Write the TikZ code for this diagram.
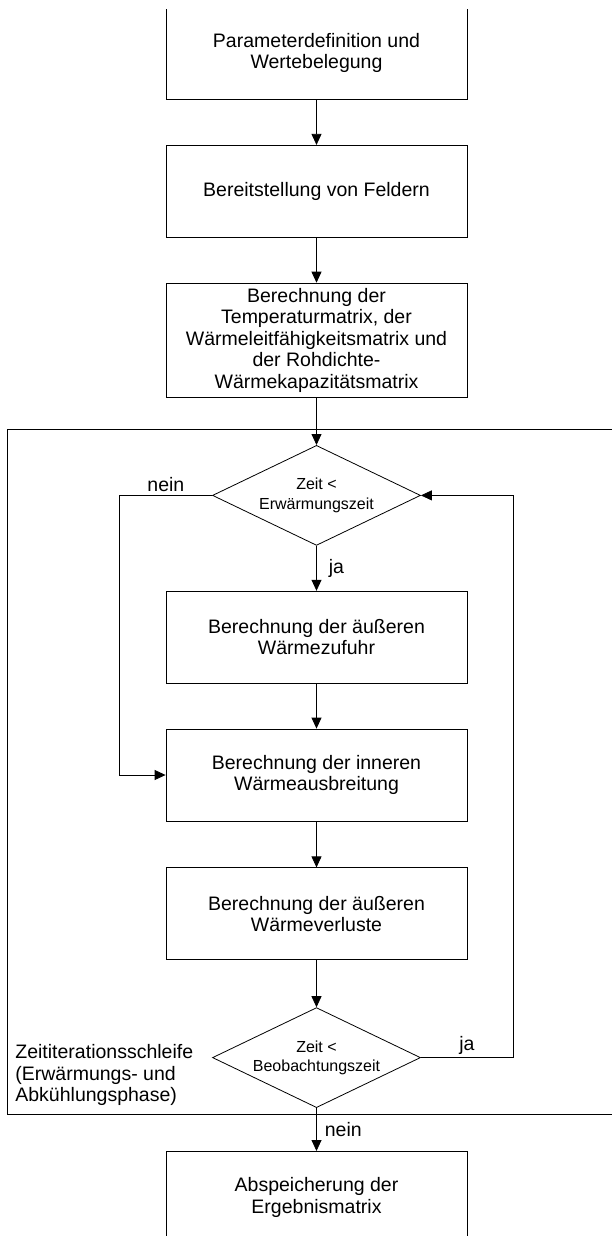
\documentclass[tikz,border=0pt]{standalone}
\usepackage{fontspec}
\setmainfont{Liberation Sans}
\usetikzlibrary{positioning, shapes.geometric, arrows.meta}

\begin{document}
\begin{tikzpicture}[>={Triangle[length=11pt,width=10pt]}, line width=0.8pt,
	blk/.style={rectangle, draw, minimum width=301pt, minimum height=92pt, inner sep=0pt, align=center, font=\fontsize{19.5}{21.5}\selectfont},
	dec/.style={diamond, draw, aspect=2.08, minimum width=208pt, minimum height=100pt, inner sep=0pt, align=center, font=\fontsize{16}{19.5}\selectfont},
	lbl/.style={inner sep=3pt, font=\fontsize{19.5}{21.5}\selectfont}]
		\useasboundingbox (0,0) rectangle (612pt,-1236pt);
		\clip (0,-10pt) rectangle (612pt,-1236pt);
		\node[blk] (P1) at (316.5pt,-53pt) {Parameterdefinition und\\Wertebelegung};
		\node[blk] (P2) [below=45.5pt of P1] {Bereitstellung von Feldern} edge[<-] (P1);
		\node[blk, minimum height=114pt] (P3) [below=45pt of P2] {Berechnung der\\Temperaturmatrix, der\\Wärmeleitfähigkeitsmatrix und\\der Rohdichte-\\Wärmekapazitätsmatrix} edge[<-] (P2);
		\node[dec] (D1) [below=47.5pt of P3] {Zeit <\\Erwärmungszeit} edge[<-] (P3);
		\node[blk] (P4) [below=45pt of D1] {Berechnung der äußeren\\Wärmezufuhr} edge[<-] node[lbl, right=9pt] {ja} (D1);
		\node[blk] (P5) [below=45pt of P4] {Berechnung der inneren\\Wärmeausbreitung} edge[<-] (P4);
		\node[blk] (P6) [below=46pt of P5] {Berechnung der äußeren\\Wärmeverluste} edge[<-] (P5);
		\node[dec] (D2) [below=47pt of P6] {Zeit <\\Beobachtungszeit} edge[<-] (P6);
		\node[blk] (P7) [below=43pt of D2] {Abspeicherung der\\Ergebnismatrix} edge[<-] node[lbl, right=5pt] {nein} (D2);
		\draw (7pt,-429pt) rectangle (640pt,-1114pt);
		\node[lbl, anchor=west, align=left] (L) at (12pt,-1075pt) {Zeititerationsschleife\\(Erwärmungs- und\\Abkühlungsphase)};
		\draw[->] (D1.west) -- node[lbl, above] {nein} ++(-92.5pt,0) |- (P5.west);
		\draw[->] (D2.east) -- node[lbl, above] {ja} ++(92pt,0) |- (D1.east);
	\end{tikzpicture}
\end{document}
